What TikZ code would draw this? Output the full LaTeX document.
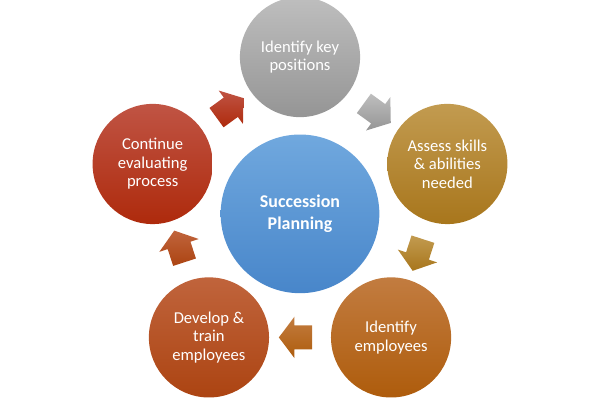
\documentclass[tikz,border=0pt]{standalone}
\usepackage{fontspec}
\setmainfont{Carlito}
\usetikzlibrary{shapes.arrows,calc}

\definecolor{grayTop}{HTML}{BEBEBE}
\definecolor{grayBot}{HTML}{959595}
\definecolor{goldTop}{HTML}{C29B50}
\definecolor{goldBot}{HTML}{A8761C}
\definecolor{ornTop}{HTML}{C27C40}
\definecolor{ornBot}{HTML}{AE5C0C}
\definecolor{rstTop}{HTML}{C0643C}
\definecolor{rstBot}{HTML}{AC4412}
\definecolor{redTop}{HTML}{C05444}
\definecolor{redBot}{HTML}{AE2A0C}
\definecolor{blueTop}{HTML}{70A8DE}
\definecolor{blueBot}{HTML}{4886CA}

\begin{document}
\begin{tikzpicture}[
    stage/.style={circle, minimum size=3.18cm, inner sep=0pt, align=center, text=white,
      font=\fontsize{12.5}{14}\selectfont},
    flow/.style={single arrow, draw=none, inner xsep=0pt, inner ysep=0.31cm,
      minimum height=0.88cm, single arrow head extend=0.23cm, single arrow tip angle=106}
  ]
    \useasboundingbox (-7.94, -5.03) rectangle (7.94, 5.61);

    % 中央の円
    \node[circle, minimum size=4.2cm, inner sep=0pt, align=center, text=white,
      font=\bfseries\fontsize{13.5}{16.5}\selectfont,
      top color=blueTop, bottom color=blueBot] (S) at (0, -0.05) {Succession\\Planning};

    \node[stage, top color=grayTop, bottom color=grayBot] (A) at (0, 4.10) {Identify key\\positions};
    \node[stage, top color=goldTop, bottom color=goldBot] (B) at (3.90, 1.27) {Assess skills\\\& abilities\\needed};
    \node[stage, top color=ornTop, bottom color=ornBot] (C) at (2.41, -3.32) {Identify\\employees};
    \node[stage, top color=rstTop, bottom color=rstBot] (D) at (-2.41, -3.32) {Develop \&\\train\\employees};
    \node[stage, top color=redTop, bottom color=redBot] (E) at (-3.90, 1.27) {Continue\\evaluating\\process};

    \node[flow, rotate=-36, top color=grayTop, bottom color=grayBot] (AB) at ($(A)!0.5!(B)$) {};
    \node[flow, rotate=-108, top color=goldTop, bottom color=goldBot] (BC) at ($(B)!0.5!(C)$) {};
    \node[flow, rotate=180, top color=ornTop, bottom color=ornBot] (CD) at ($(C)!0.5!(D)$) {};
    \node[flow, rotate=108, top color=rstTop, bottom color=rstBot] (DE) at ($(D)!0.5!(E)$) {};
    \node[flow, rotate=36, top color=redTop, bottom color=redBot] (EA) at ($(E)!0.5!(A)$) {};

  \end{tikzpicture}
\end{document}
